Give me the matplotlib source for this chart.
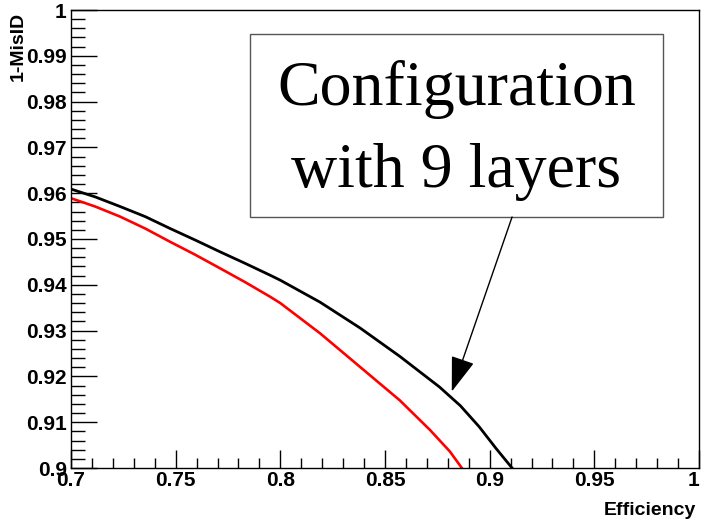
import matplotlib
matplotlib.use("Agg")
import matplotlib.pyplot as plt
from matplotlib.ticker import MultipleLocator, FixedLocator

# efficiency vs (1 - misidentification) for the two configurations
black_eff = [0.700, 0.7115, 0.7234, 0.7354, 0.7473, 0.7592, 0.7712, 0.7831, 0.7951,
             0.800, 0.819, 0.838, 0.857, 0.876, 0.886, 0.895, 0.903, 0.9107]
black_pur = [0.9609, 0.9592, 0.9571, 0.9549, 0.9523, 0.9498, 0.9472, 0.9447, 0.9421,
             0.9410, 0.9362, 0.9306, 0.9244, 0.9177, 0.9136, 0.9090, 0.9043, 0.9000]

red_eff = [0.700, 0.7115, 0.7234, 0.7354, 0.7473, 0.7592, 0.7712, 0.7831, 0.7951,
           0.800, 0.819, 0.838, 0.857, 0.8715, 0.881, 0.8867]
red_pur = [0.9589, 0.9571, 0.9549, 0.9523, 0.9494, 0.9466, 0.9436, 0.9406, 0.9374,
           0.9360, 0.9294, 0.9221, 0.9148, 0.9083, 0.9036, 0.9000]

x_ticks = [0.7, 0.75, 0.8, 0.85, 0.9, 0.95, 1.0]
x_labels = ["0.7", "0.75", "0.8", "0.85", "0.9", "0.95", "1"]
y_ticks = [0.9, 0.91, 0.92, 0.93, 0.94, 0.95, 0.96, 0.97, 0.98, 0.99, 1.0]
y_labels = ["0.9", "0.91", "0.92", "0.93", "0.94", "0.95", "0.96", "0.97", "0.98", "0.99", "1"]

note_lines = ["Configuration", "with 9 layers"]

sans = ["Liberation Sans", "DejaVu Sans"]
serif = ["Liberation Serif", "DejaVu Serif"]

fig = plt.figure(figsize=(7.01, 5.19), dpi=100)
ax = fig.add_axes([71 / 701, 1 - 468 / 519, 628 / 701, 458 / 519])
ax.set_xlim(0.7, 1.0)
ax.set_ylim(0.9, 1.0)

ax.plot(black_eff, black_pur, color="black", lw=2.0, solid_joinstyle="round")
ax.plot(red_eff, red_pur, color="#ff0000", lw=1.9, solid_joinstyle="round")

# ROOT-like frame and inward ticks
for s in ax.spines.values():
    s.set_linewidth(1.0)
    s.set_color("black")
ax.xaxis.set_major_locator(FixedLocator(x_ticks))
ax.yaxis.set_major_locator(FixedLocator(y_ticks))
ax.xaxis.set_minor_locator(MultipleLocator(0.01))
ax.yaxis.set_minor_locator(MultipleLocator(0.002))
ax.set_xticklabels(x_labels, fontfamily=sans, fontweight="bold", fontsize=15)
ax.set_yticklabels(y_labels, fontfamily=sans, fontweight="bold", fontsize=15)
ax.get_xticklabels()[-1].set_horizontalalignment("right")
ax.tick_params(axis="x", which="major", direction="in", length=13, width=1, pad=2)
ax.tick_params(axis="x", which="minor", direction="in", length=7, width=1)
ax.tick_params(axis="y", which="major", direction="in", length=19, width=1, pad=3)
ax.tick_params(axis="y", which="minor", direction="in", length=10, width=1)
ax.tick_params(top=False, right=False)

ax.set_xlabel("Efficiency", fontfamily=sans, fontweight="bold", fontsize=14)
ax.xaxis.set_label_coords(0.996, -0.075)
ax.xaxis.label.set_horizontalalignment("right")
ax.set_ylabel("1-MisID", fontfamily=sans, fontweight="bold", fontsize=14)
ax.yaxis.set_label_coords(-0.071, 0.995)
ax.yaxis.label.set_horizontalalignment("right")

# annotation box
box_x0, box_x1 = 0.7855, 0.9828
box_y0, box_y1 = 0.9548, 0.9948
ax.add_patch(plt.Rectangle((box_x0, box_y0), box_x1 - box_x0, box_y1 - box_y0,
                           facecolor="white", edgecolor="#555555", lw=1.0, zorder=3))
cx = (box_x0 + box_x1) / 2
ax.text(cx, 0.9792, note_lines[0], ha="center", va="baseline", fontfamily=serif,
        fontsize=46, zorder=4)
ax.text(cx, 0.9614, note_lines[1], ha="center", va="baseline", fontfamily=serif,
        fontsize=46, zorder=4)

ax.annotate("", xy=(0.8819, 0.9167), xytext=(0.9107, 0.9548),
            arrowprops=dict(arrowstyle="-|>,head_length=2.2,head_width=0.75",
                            color="black", lw=1.0, shrinkA=0, shrinkB=0),
            zorder=4)

fig.savefig("out.png", dpi=100)
